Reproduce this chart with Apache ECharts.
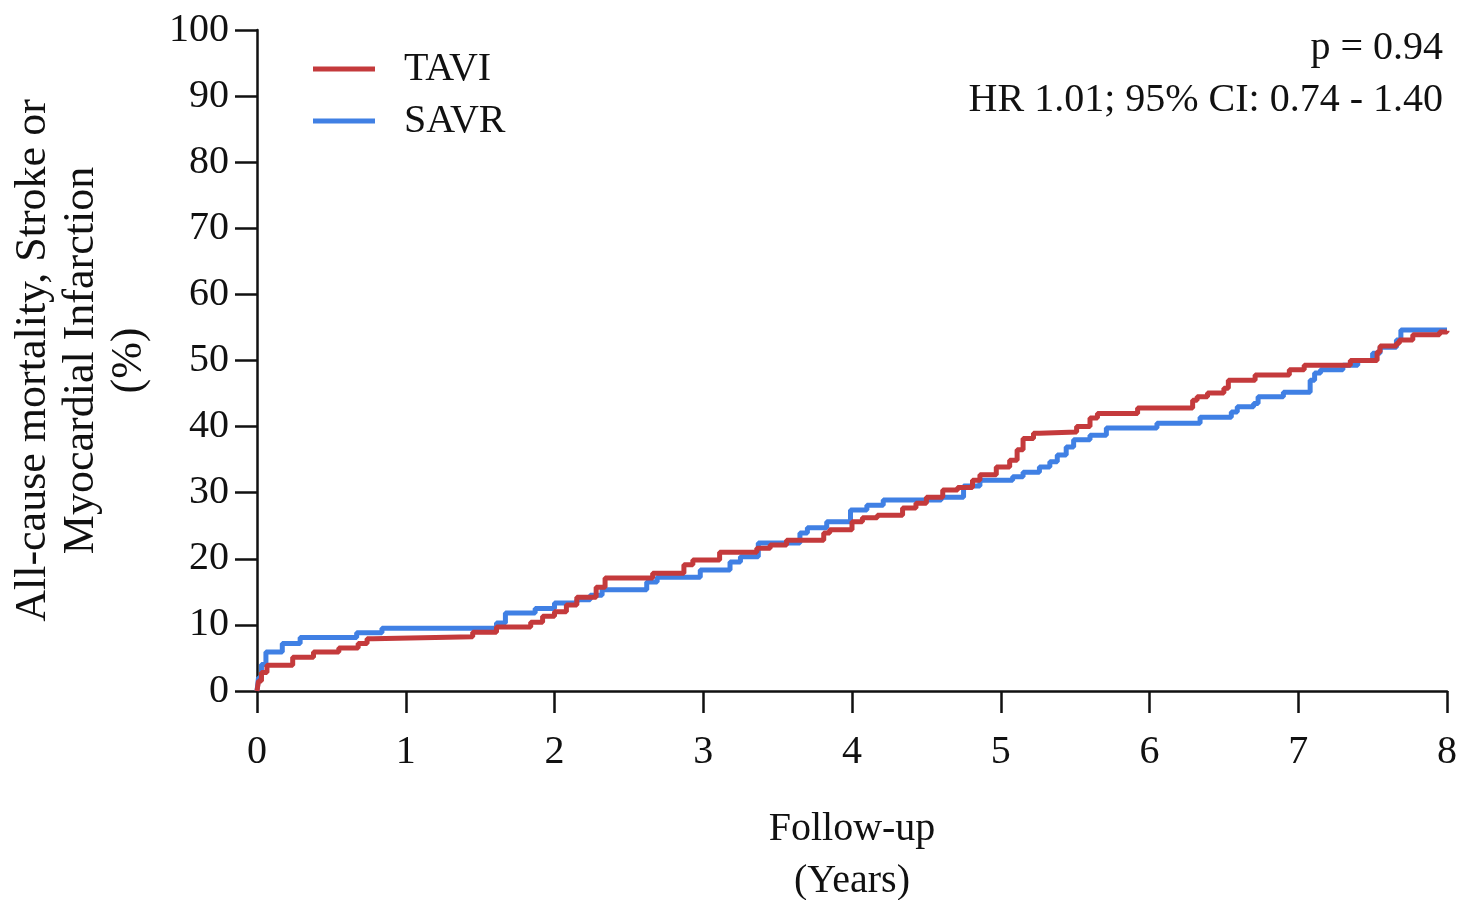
<!DOCTYPE html>
<html>
<head>
<meta charset="utf-8">
<script src="https://cdn.jsdelivr.net/npm/echarts@6/dist/echarts.min.js"></script>
<style>
  html, body {margin:0;padding:0;background:#fff;}
  #chart {width:1463px;height:900px;}
</style>
</head>
<body>
<div id="chart"></div>
<script>
    // Kaplan-Meier style cumulative incidence
    var taviYears = [0, 0.01, 0.03, 0.067, 0.24, 0.38, 0.55, 0.68, 0.74, 0.78, 1.45, 1.61, 1.84, 1.92, 2.0, 2.08, 2.15, 2.28, 2.34,
        2.66, 2.87, 2.93, 3.11, 3.36, 3.45, 3.56, 3.81, 3.85, 4.0, 4.07, 4.17, 4.34, 4.43, 4.5, 4.61, 4.71, 4.81, 4.86,
        4.97, 5.06, 5.11, 5.15, 5.22, 5.26, 5.51, 5.6, 5.65, 5.92, 6.29, 6.32, 6.39, 6.5, 6.53, 6.71, 6.94, 7.04,
        7.35, 7.53, 7.55, 7.66, 7.68, 7.77, 7.95, 8.0];
    var taviValues = [0, 1.5, 2.8, 3.9, 5.1, 5.9, 6.5, 7.2, 7.9, 8.2, 8.9, 9.7, 10.4, 11.3, 12.0, 13.0, 14.2, 15.7, 17.1,
        17.8, 19.1, 19.8, 21.0, 21.6, 22.1, 22.8, 23.9, 24.4, 25.6, 26.2, 26.6, 27.7, 28.4, 29.3, 30.4, 30.8, 31.9, 32.7,
        33.9, 34.9, 36.5, 38.2, 39.0, 39.2, 40.0, 41.3, 42.0, 42.8, 44.0, 44.5, 45.1, 45.8, 47.0, 47.8, 48.6, 49.3,
        50.0, 51.3, 52.2, 52.6, 53.1, 53.9, 54.3, 54.5];

    var savrYears = [0, 0.01, 0.03, 0.06, 0.17, 0.29, 0.67, 0.84, 1.61, 1.67, 1.87, 2.0, 2.15, 2.24, 2.32, 2.62, 2.69, 2.98,
        3.18, 3.25, 3.37, 3.65, 3.7, 3.83, 3.99, 4.1, 4.21, 4.6, 4.75, 4.86, 5.08, 5.15, 5.26, 5.33, 5.38, 5.44, 5.49,
        5.6, 5.71, 6.05, 6.34, 6.55, 6.59, 6.7, 6.73, 6.9, 7.08, 7.11, 7.15, 7.3, 7.4, 7.5, 7.55, 7.66, 7.69, 8.0];
    var savrValues = [0, 2.0, 4.0, 5.9, 7.2, 8.1, 8.8, 9.5, 10.3, 11.8, 12.5, 13.3, 13.8, 14.5, 15.3, 16.5, 17.2, 18.3,
        19.5, 20.3, 22.4, 23.9, 24.7, 25.6, 27.4, 28.1, 28.9, 29.3, 31.0, 31.9, 32.4, 33.1, 33.9, 34.7, 35.7, 36.9, 38.0,
        38.7, 39.8, 40.5, 41.4, 42.2, 43.0, 43.5, 44.5, 45.2, 47.0, 48.1, 48.6, 49.3, 50.0, 51.1, 52.0, 53.1, 54.6, 54.6];

    var xTicks = [0, 1, 2, 3, 4, 5, 6, 7, 8];
    var yTicks = [0, 10, 20, 30, 40, 50, 60, 70, 80, 90, 100];

    var statsText = ['p = 0.94', 'HR 1.01; 95% CI: 0.74 - 1.40'];

    function pairs(xs, ys) {
        return xs.map(function (x, i) { return [x, ys[i]]; });
    }

    var serif = '"Liberation Serif", "DejaVu Serif", serif';
    var red = '#c43a3c', blue = '#4080e4';

    var chart = echarts.init(document.getElementById('chart'));
    var option = {
        animation: false,
        backgroundColor: '#fff',
        textStyle: {fontFamily: serif, color: '#111'},
        grid: {left: 257, right: 16, top: 30, bottom: 209, containLabel: false, outerBoundsMode: 'none'},
        legend: {
            orient: 'vertical',
            left: 308, top: 44,
            itemWidth: 62, itemHeight: 5,
            itemGap: 12,
            icon: 'rect',
            textStyle: {fontFamily: serif, fontSize: 40, color: '#111', padding: [0, 0, 0, 24]},
            data: ['TAVI', 'SAVR']
        },
        xAxis: {
            type: 'value',
            min: xTicks[0], max: xTicks[xTicks.length - 1], interval: 1,
            name: 'Follow-up\n(Years)',
            nameLocation: 'middle',
            nameGap: 112,
            nameTextStyle: {fontFamily: serif, fontSize: 40, color: '#111', lineHeight: 52},
            axisLine: {lineStyle: {color: '#111', width: 2.5}},
            axisTick: {show: true, length: 22, lineStyle: {color: '#111', width: 2.5}},
            axisLabel: {fontFamily: serif, fontSize: 40, color: '#111', margin: 41},
            splitLine: {show: false}
        },
        yAxis: {
            type: 'value',
            min: yTicks[0], max: yTicks[yTicks.length - 1], interval: 10,
            name: 'All-cause mortality, Stroke or\nMyocardial Infarction\n(%)',
            nameLocation: 'middle',
            nameGap: 104,
            nameRotate: 90,
            nameTextStyle: {fontFamily: serif, fontSize: 44, color: '#111', lineHeight: 48},
            axisLine: {lineStyle: {color: '#111', width: 2.5}},
            axisTick: {show: true, length: 22, lineStyle: {color: '#111', width: 2.5}},
            axisLabel: {fontFamily: serif, fontSize: 40, color: '#111', margin: 28},
            splitLine: {show: false}
        },
        graphic: [{
            type: 'text',
            x: 1443, y: 22,
            style: {
                text: statsText.join('\n'),
                fontFamily: serif, fontSize: 40, lineHeight: 52,
                fill: '#111', align: 'right'
            }
        }],
        series: [{
            name: 'TAVI',
            type: 'line',
            step: 'end',
            symbol: 'none',
            itemStyle: {color: red},
            lineStyle: {color: red, width: 5},
            data: pairs(taviYears, taviValues),
            z: 3
        }, {
            name: 'SAVR',
            type: 'line',
            step: 'end',
            symbol: 'none',
            itemStyle: {color: blue},
            lineStyle: {color: blue, width: 5},
            data: pairs(savrYears, savrValues),
            z: 2
        }]
    };
    chart.setOption(option);
</script>
</body>
</html>
